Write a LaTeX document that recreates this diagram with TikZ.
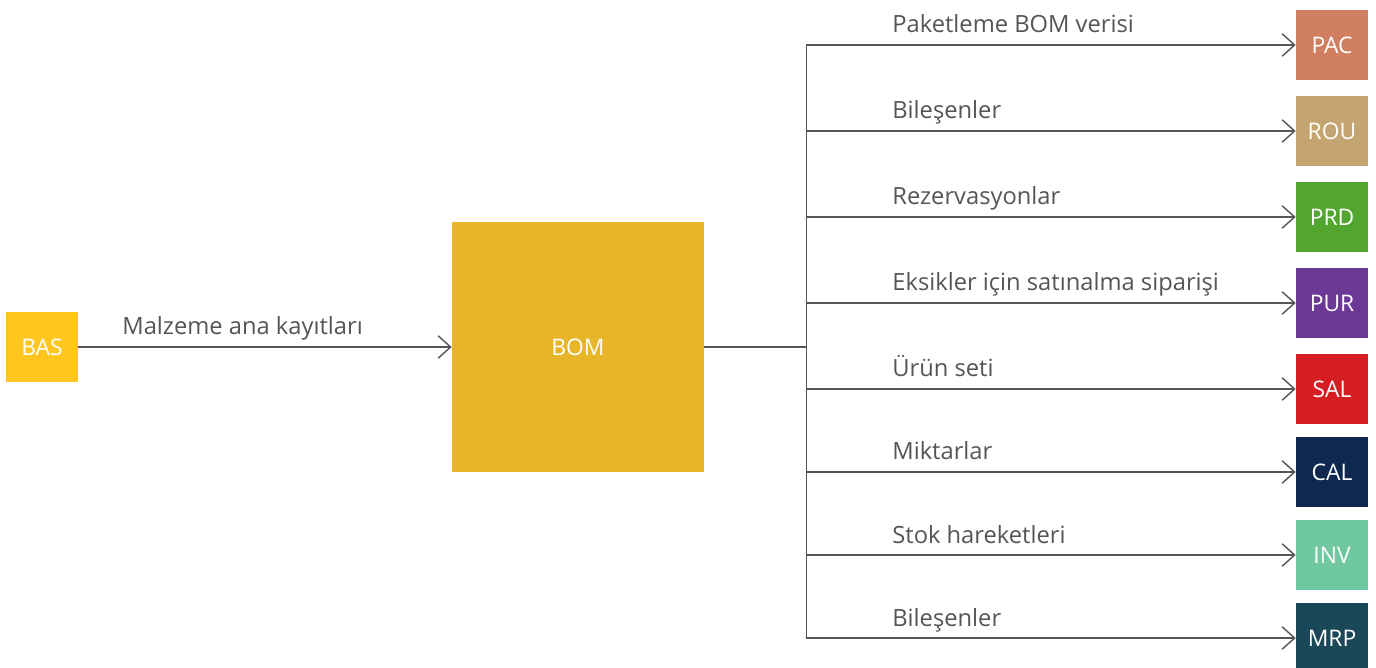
\documentclass[tikz,border=0pt]{standalone}
\usepackage{fontspec}
\setmainfont{Open Sans}
\usetikzlibrary{calc}
\usetikzlibrary{arrows.meta}
\definecolor{colbas}{RGB}{255,198,30}
\definecolor{colbom}{RGB}{232,180,40}
\definecolor{colpac}{RGB}{208,128,96}
\definecolor{colrou}{RGB}{196,164,112}
\definecolor{colprd}{RGB}{82,166,48}
\definecolor{colpur}{RGB}{108,56,150}
\definecolor{colsal}{RGB}{212,30,34}
\definecolor{colcal}{RGB}{14,40,80}
\definecolor{colinv}{RGB}{112,200,160}
\definecolor{colmrp}{RGB}{26,72,88}
\definecolor{colline}{RGB}{85,85,85}

\begin{document}
\begin{tikzpicture}[x=0.02cm, y=-0.02cm,
    module/.style={minimum width=1.44cm, minimum height=1.4cm, inner sep=0pt, text=white, font=\fontsize{13}{15}\selectfont},
    flow/.style={colline, line width=0.8pt, -{Straight Barb[length=2.5mm, width=4.5mm]}},
    flowlab/.style={anchor=base west, inner sep=0pt, text=colline, font=\fontsize{13.5}{16}\selectfont}]
        \useasboundingbox (0,0) rectangle (1376,668);

        \node (bas) [module, fill=colbas] at (42, 347) {BAS};
        \node (bom) [module, fill=colbom, minimum width=5.04cm, minimum height=5cm] at (578, 347) {BOM};
        \coordinate (split) at ($(bom.east) + (102, 0)$);

        \node (pac) [module, fill=colpac] at (1332, 45) {PAC};
        \node (rou) [module, fill=colrou] at (1332, 131) {ROU};
        \node (prd) [module, fill=colprd] at (1332, 217) {PRD};
        \node (pur) [module, fill=colpur] at (1332, 303) {PUR};
        \node (sal) [module, fill=colsal] at (1332, 389) {SAL};
        \node (cal) [module, fill=colcal] at (1332, 472) {CAL};
        \node (inv) [module, fill=colinv] at (1332, 555) {INV};
        \node (mrp) [module, fill=colmrp] at (1332, 638) {MRP};

        \draw [flow] (bas) -- (bom);
        \node [flowlab] at (122, 335) {Malzeme ana kayıtları};

        \draw [colline, line width=0.8pt] (bom) -- (split);

        \draw [flow] (split) |- (pac);
        \node [flowlab] at (892, 33) {Paketleme BOM verisi};
        \draw [flow] (split) |- (rou);
        \node [flowlab] at (892, 119) {Bileşenler};
        \draw [flow] (split) |- (prd);
        \node [flowlab] at (892, 205) {Rezervasyonlar};
        \draw [flow] (split) |- (pur);
        \node [flowlab] at (892, 291) {Eksikler için satınalma siparişi};
        \draw [flow] (split) |- (sal);
        \node [flowlab] at (892, 377) {Ürün seti};
        \draw [flow] (split) |- (cal);
        \node [flowlab] at (892, 460) {Miktarlar};
        \draw [flow] (split) |- (inv);
        \node [flowlab] at (892, 543) {Stok hareketleri};
        \draw [flow] (split) |- (mrp);
        \node [flowlab] at (892, 626) {Bileşenler};
\end{tikzpicture}
\end{document}
